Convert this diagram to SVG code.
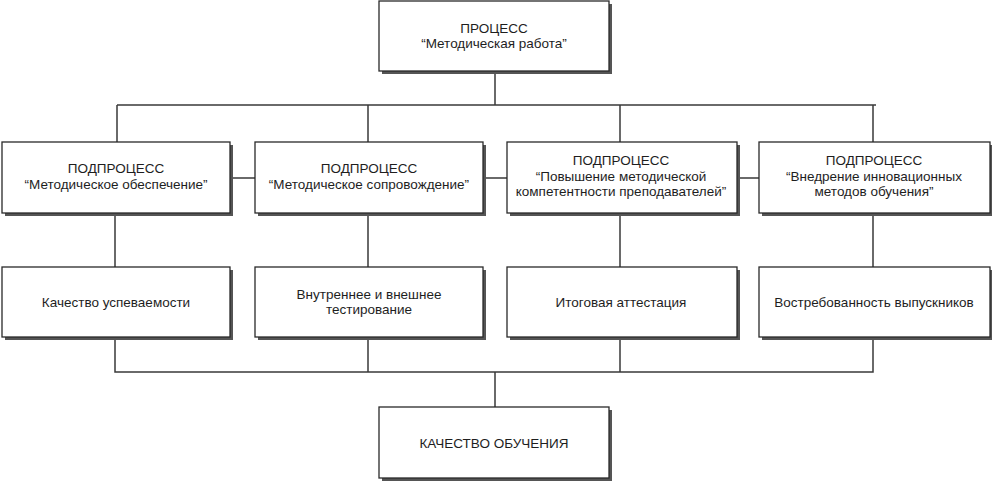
<svg xmlns="http://www.w3.org/2000/svg" width="992" height="485" viewBox="0 0 992 485">
<defs>
<style>
.box{fill:#fff;stroke:#2a2a2a;stroke-width:1.3}
.sh{fill:#555}
.ln{fill:none;stroke:#3a3a3a;stroke-width:1.5}
text{font-family:"Liberation Sans",Arial,sans-serif;font-size:13.5px;fill:#1e1e1e;text-anchor:middle}
</style>
</defs>
<rect width="992" height="485" fill="#fff"/>
<g id="connectors">
<path class="ln" d="M495 71V105M117 105H876M117 105V142M368 105V142M620 105V142M873 105V142"/>
<path class="ln" d="M230 178H255M483 178H507M737 178H759"/>
<path class="ln" d="M115 213V267M368 213V267M620 213V267M873 213V267"/>
<path class="ln" d="M115 337V372H873V337M368 337V372M620 337V372M495 372V407"/>
</g>
<g id="process">
<rect class="sh" x="382" y="4" width="230" height="70"/>
<rect class="box" x="379" y="1" width="230" height="70"/>
<text x="494" y="33">ПРОЦЕСС</text>
<text x="494" y="48">“Методическая работа”</text>
</g>
<g id="sub1">
<rect class="sh" x="5" y="145" width="228" height="71"/>
<rect class="box" x="2" y="142" width="228" height="71"/>
<text x="116" y="173">ПОДПРОЦЕСС</text>
<text x="116" y="189">“Методическое обеспечение”</text>
</g>
<g id="sub2">
<rect class="sh" x="258" y="145" width="228" height="71"/>
<rect class="box" x="255" y="142" width="228" height="71"/>
<text x="369" y="173">ПОДПРОЦЕСС</text>
<text x="369" y="189">“Методическое сопровождение”</text>
</g>
<g id="sub3">
<rect class="sh" x="510" y="145" width="230" height="71"/>
<rect class="box" x="507" y="142" width="230" height="71"/>
<text x="621" y="165">ПОДПРОЦЕСС</text>
<text x="621" y="181">“Повышение методической</text>
<text x="621" y="196">компетентности преподавателей”</text>
</g>
<g id="sub4">
<rect class="sh" x="762" y="145" width="231" height="71"/>
<rect class="box" x="759" y="142" width="231" height="71"/>
<text x="874" y="165">ПОДПРОЦЕСС</text>
<text x="874" y="181">“Внедрение инновационных</text>
<text x="874" y="196">методов обучения”</text>
</g>
<g id="res1">
<rect class="sh" x="5" y="270" width="228" height="70"/>
<rect class="box" x="2" y="267" width="228" height="70"/>
<text x="116" y="307">Качество успеваемости</text>
</g>
<g id="res2">
<rect class="sh" x="258" y="270" width="228" height="70"/>
<rect class="box" x="255" y="267" width="228" height="70"/>
<text x="369" y="299">Внутреннее и внешнее</text>
<text x="369" y="314">тестирование</text>
</g>
<g id="res3">
<rect class="sh" x="510" y="270" width="230" height="70"/>
<rect class="box" x="507" y="267" width="230" height="70"/>
<text x="621" y="307">Итоговая аттестация</text>
</g>
<g id="res4">
<rect class="sh" x="762" y="270" width="231" height="70"/>
<rect class="box" x="759" y="267" width="231" height="70"/>
<text x="874" y="307">Востребованность выпускников</text>
</g>
<g id="quality">
<rect class="sh" x="382" y="410" width="230" height="71"/>
<rect class="box" x="379" y="407" width="230" height="71"/>
<text x="494" y="448">КАЧЕСТВО ОБУЧЕНИЯ</text>
</g>
</svg>
